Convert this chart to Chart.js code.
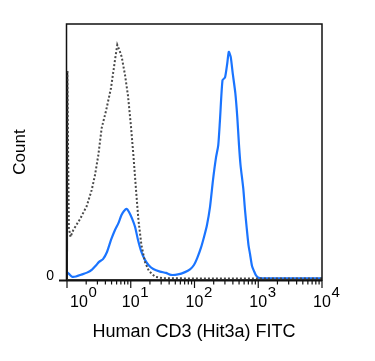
<!DOCTYPE html>
<html>
<head>
<meta charset="utf-8">
<script src="https://cdn.jsdelivr.net/npm/chart.js@4.4.0/dist/chart.umd.min.js"></script>
<style>
  html, body { margin: 0; padding: 0; background: #fff; }
  #wrap { position: relative; width: 375px; height: 361px; }
</style>
</head>
<body>
<div id="wrap"><canvas id="histo"></canvas></div>
<script>
// CD3 FITC histogram - blue = stained, dotted gray = isotype control

const blueX = [1.0, 1.075, 1.2, 1.38, 1.72, 2.06, 2.47, 2.85, 3.18, 3.67, 4.24, 4.9, 5.66, 6.38, 7.16,
  7.84, 8.64, 9.39, 10.5, 11.7, 13.0, 14.7, 16.7, 19.3, 22.6, 28.8, 35.7, 42.8, 55.1, 71,
  85, 98, 111, 126, 141, 157, 175, 195, 217, 236, 251, 275, 301, 327, 345,
  370, 397, 437, 469, 499, 527, 582, 620, 659, 703, 743, 798, 858, 922, 1009, 1146, 10000];
const blueY = [2.7, 2.0, 0.9, 1.0, 1.8, 2.5, 3.7, 5.3, 6.7, 7.8, 10.6, 15.3, 19.2, 21.8, 25.1,
  26.7, 27.5, 26.3, 23.7, 20.4, 15.3, 10.6, 7.5, 5.3, 3.9, 2.9, 2.4, 1.6, 1.8, 2.7,
  3.8, 5.5, 8.4, 12.2, 16.5, 21.2, 28.2, 38.8, 47.5, 52.5, 62.4, 78.0, 79.0, 84.7, 89.1,
  87.1, 80.8, 72.9, 63.5, 52.5, 44.7, 35.5, 27.0, 20.0, 13.3, 9.8, 5.1, 3.1, 1.4, 0.5, 0.3, 0.3];

const grayX = [1.0, 1.01, 1.07, 1.135, 1.255, 1.6, 2.04, 2.44, 2.75, 3.1, 3.5, 4.09, 4.9, 5.66, 6.15,
  6.78, 7.21, 8.13, 9.06, 10.1, 11.0, 12.1, 13.2, 14.7, 16.7, 19.3, 24.0, 32.0, 122, 10000];
const grayY = [0, 81.6, 20, 16.5, 19.2, 23.5, 28.6, 34.9, 40.8, 48.6, 59.2, 65.9, 74.9, 85.9, 91.8,
  89.1, 87.1, 80, 71.8, 59.6, 48.6, 34.9, 23.1, 13.3, 6.7, 3.1, 0.9, 0.3, 0.2, 0.2];

const decades = [0, 1, 2, 3, 4];
const yTickLabels = ['0'];
const xTitle = 'Human CD3 (Hit3a) FITC';
const yTitle = 'Count';

const FONT = 'Arial, "Liberation Sans", sans-serif';

const toPoints = (xs, ys) => xs.map((x, i) => ({ x, y: ys[i] }));

// frame, log ticks, superscript labels, titles
const axesPlugin = {
  id: 'flowAxes',
  afterDatasetsDraw(chart) {
    const { ctx, chartArea: a, scales } = chart;
    const xs = scales.x;
    const bottom = a.bottom + 1;
    ctx.save();

    ctx.strokeStyle = '#111';
    ctx.lineWidth = 1.5;
    ctx.strokeRect(a.left - 0.5, a.top, a.right - a.left + 0.5, bottom - a.top);

    // bottom axis line, runs past the frame to the y zero tick
    ctx.lineWidth = 2;
    ctx.beginPath();
    ctx.moveTo(59, bottom + 0.5);
    ctx.lineTo(a.right, bottom + 0.5);
    ctx.stroke();

    // x ticks
    ctx.lineWidth = 1.2;
    ctx.beginPath();
    decades.forEach(d => {
      const p = xs.getPixelForValue(Math.pow(10, d));
      ctx.moveTo(p, bottom);
      ctx.lineTo(p, bottom + 8);
      if (d < 4) {
        for (let k = 2; k <= 9; k++) {
          const q = xs.getPixelForValue(k * Math.pow(10, d));
          ctx.moveTo(q, bottom);
          ctx.lineTo(q, bottom + 4.5);
        }
      }
    });
    ctx.stroke();

    // x tick labels 10^n
    ctx.fillStyle = '#000';
    ctx.textBaseline = 'alphabetic';
    decades.forEach(d => {
      let p = xs.getPixelForValue(Math.pow(10, d));
      if (d === 0) p += 12;
      ctx.font = '16px ' + FONT;
      const w = ctx.measureText('10').width;
      ctx.textAlign = 'center';
      ctx.fillText('10', p, 307);
      ctx.font = '15px ' + FONT;
      ctx.textAlign = 'left';
      ctx.fillText(String(d), p + w / 2 + 0.5, 297);
    });

    // y tick "0"
    ctx.font = '14px ' + FONT;
    ctx.textAlign = 'right';
    ctx.fillText(yTickLabels[0], 54, 280);

    // titles
    ctx.font = '18px ' + FONT;
    ctx.textAlign = 'center';
    ctx.fillText(xTitle, 194, 337);

    ctx.translate(25, 152);
    ctx.rotate(-Math.PI / 2);
    ctx.font = '17px ' + FONT;
    ctx.textAlign = 'center';
    ctx.fillText(yTitle, 0, 0);
    ctx.restore();
  }
};

new Chart(document.getElementById('histo'), {
  type: 'line',
  data: {
    datasets: [
      {
        label: 'Isotype',
        data: toPoints(grayX, grayY),
        borderColor: '#4a4a4a',
        borderWidth: 2,
        borderDash: [2, 2],
        segment: {
          borderDash: c => (c.p0DataIndex === 0 ? [] : [2, 2]),
          borderColor: c => (c.p0DataIndex === 0 ? '#222' : '#4a4a4a')
        },
        pointRadius: 0,
        tension: 0,
        fill: false
      },
      {
        label: 'CD3',
        data: toPoints(blueX, blueY),
        borderColor: '#1a74ff',
        borderWidth: 2.2,
        pointRadius: 0,
        tension: 0.2,
        fill: false
      }
    ]
  },
  options: {
    responsive: true,
    maintainAspectRatio: false,
    animation: false,
    layout: { padding: { left: 67, right: 53, top: 24, bottom: 82 } },
    scales: {
      x: { type: 'logarithmic', min: 1, max: 10000, display: false },
      y: { type: 'linear', min: 0, max: 100, display: false }
    },
    plugins: {
      legend: { display: false },
      tooltip: { enabled: false }
    }
  },
  plugins: [axesPlugin]
});
</script>
</body>
</html>
